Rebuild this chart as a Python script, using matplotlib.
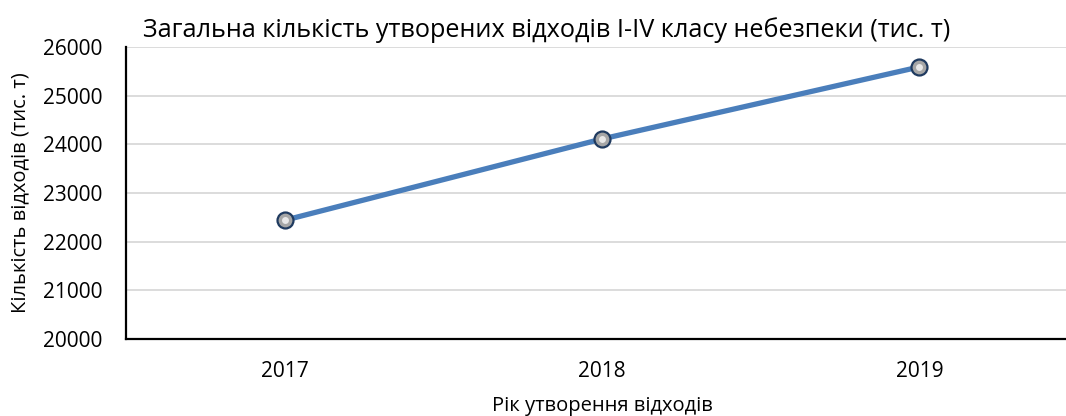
import matplotlib.pyplot as plt

plt.rcParams['font.family'] = ['Open Sans', 'DejaVu Sans']

# data
years = ['2017', '2018', '2019']
waste = [22440, 24110, 25590]
y_ticks = [20000, 21000, 22000, 23000, 24000, 25000, 26000]

fig = plt.figure(figsize=(10.66, 4.16), dpi=100)
ax = fig.add_axes([126 / 1066, 77 / 416, 952 / 1066, 292 / 416])

x = list(range(len(years)))
ax.plot(x, waste, color='#4a7ebb', linewidth=3.8, zorder=3)
ax.plot(x, waste, 'o', markersize=11.5, markerfacecolor='#a6a6a6',
        markeredgecolor='#1f3a5f', markeredgewidth=1.6, zorder=4)
# small highlight on the markers
ax.plot(x, waste, 'o', markersize=5, markerfacecolor='#e8e8e8',
        markeredgewidth=0, zorder=5)

ax.set_xlim(-0.5, 2.5)
ax.set_ylim(20000, 26000)
ax.set_xticks(x)
ax.set_xticklabels(years)
ax.set_yticks(y_ticks)
ax.tick_params(axis='both', length=0, labelsize=15, colors='black')
ax.tick_params(axis='x', pad=16)
ax.tick_params(axis='y', pad=17)

ax.grid(axis='y', color='#d9d9d9', linewidth=1.3)
ax.set_axisbelow(True)
for s in ['top', 'right']:
    ax.spines[s].set_visible(False)
ax.spines['left'].set_linewidth(1.6)
ax.spines['bottom'].set_linewidth(1.6)

ax.set_xlabel('Рік утворення відходів', fontsize=14.5, labelpad=10)
ax.set_ylabel('Кількість відходів (тис. т)', fontsize=14.5, labelpad=9)
fig.text(143 / 1066, 1 - 30 / 416,
         'Загальна кількість утворених відходів I-IV класу небезпеки (тис. т)',
         fontsize=18.2, va='center', ha='left')

fig.savefig('out.png', dpi=100)
